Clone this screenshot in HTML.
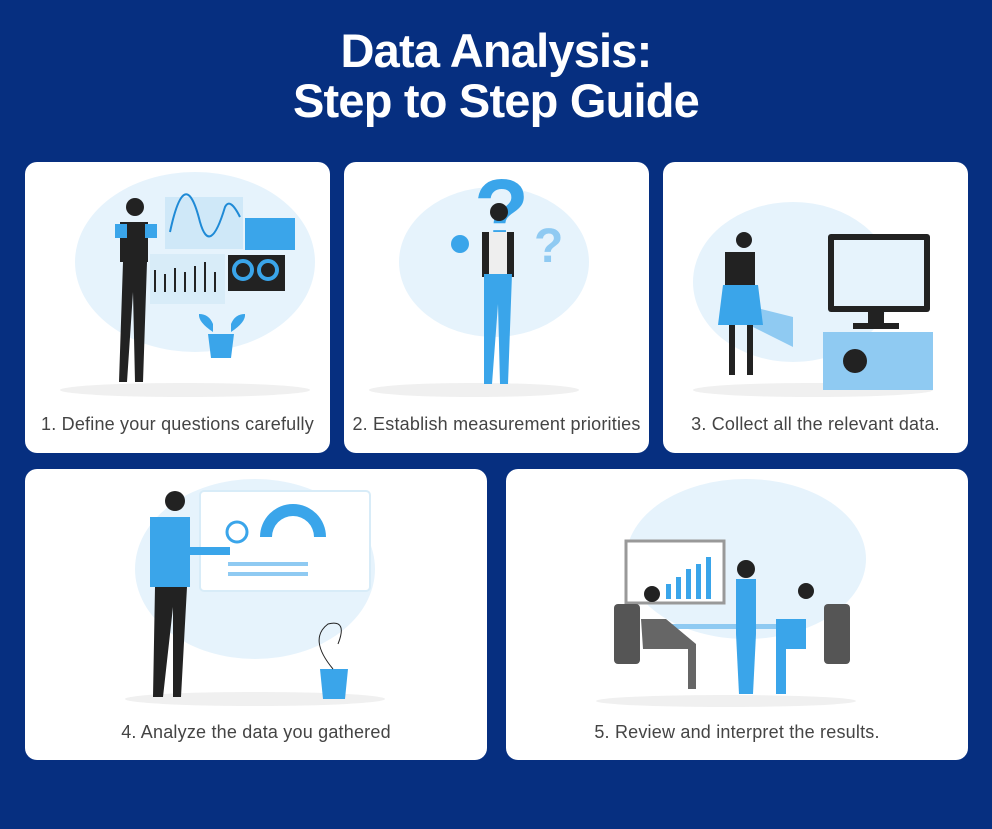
<!DOCTYPE html>
<html><head><meta charset="utf-8"><style>
body{margin:0;width:992px;height:829px;background:#062f80;font-family:"Liberation Sans",sans-serif;position:relative;overflow:hidden}
h1{position:absolute;top:26px;left:0;width:992px;margin:0;text-align:center;color:#fff;font-size:47px;line-height:50px;font-weight:bold;letter-spacing:-0.8px}
.c{position:absolute;background:#fff;border-radius:12px;overflow:hidden}
.c svg{position:absolute;left:0;top:0}
.l{position:absolute;left:0;right:0;text-align:center;color:#444;font-size:18px;letter-spacing:0.2px;white-space:nowrap}
</style></head><body>
<h1>Data Analysis:<br>Step to Step Guide</h1>

<div class="c" style="left:25px;top:162px;width:305px;height:291px">
<svg width="305" height="291">
<ellipse cx="170" cy="100" rx="120" ry="90" fill="#e6f3fc"/>
<ellipse cx="160" cy="228" rx="125" ry="7" fill="#f0f0f0"/>
<rect x="140" y="35" width="78" height="52" fill="#cfe8f8"/>
<path d="M145 70 Q160 0 175 60 Q185 95 200 45 Q205 35 215 55" stroke="#1f8ad6" stroke-width="2" fill="none"/>
<rect x="220" y="56" width="50" height="32" fill="#3aa5ea"/>
<rect x="125" y="92" width="75" height="50" fill="#d8ecf8"/>
<g stroke="#222" stroke-width="2"><line x1="130" y1="130" x2="130" y2="108"/><line x1="140" y1="130" x2="140" y2="112"/><line x1="150" y1="130" x2="150" y2="106"/><line x1="160" y1="130" x2="160" y2="110"/><line x1="170" y1="130" x2="170" y2="104"/><line x1="180" y1="130" x2="180" y2="100"/><line x1="190" y1="130" x2="190" y2="110"/></g>
<rect x="203" y="93" width="57" height="36" fill="#222"/>
<circle cx="218" cy="108" r="9" fill="none" stroke="#3aa5ea" stroke-width="4"/><circle cx="243" cy="108" r="9" fill="none" stroke="#3aa5ea" stroke-width="4"/>
<circle cx="110" cy="45" r="9" fill="#222"/>
<path d="M95 60 h28 v40 h-28z" fill="#222"/><path d="M90 62 h12 v14 h-12z M120 62 h12 v14 h-12z" fill="#3aa5ea"/>
<path d="M98 100 h24 l-4 120 h-8 l-2-90 l-6 90 h-8z" fill="#222"/>
<path d="M183 172 h26 l-3 24 h-20z" fill="#3aa5ea"/>
<path d="M188 170 q-15-10-14-18 q10 0 14 10z M206 170 q15-10 14-18 q-10 0-14 10z" fill="#3aa5ea"/>
</svg>
<div class="l" style="top:252px">1. Define your questions carefully</div></div>

<div class="c" style="left:344px;top:162px;width:305px;height:291px">
<svg width="305" height="291">
<ellipse cx="150" cy="100" rx="95" ry="75" fill="#e6f3fc"/>
<ellipse cx="130" cy="228" rx="105" ry="7" fill="#f0f0f0"/>
<text x="130" y="80" font-size="90" font-weight="bold" fill="#3aa5ea" font-family="Liberation Sans">?</text>
<text x="190" y="100" font-size="48" font-weight="bold" fill="#8fcaf2" font-family="Liberation Sans">?</text>
<circle cx="155" cy="50" r="9" fill="#222"/>
<path d="M138 70 h32 v45 h-32z" fill="#222"/><path d="M145 70 h18 v45 h-18z" fill="#eee"/>
<path d="M140 112 h28 l-4 110 h-8 l-2-80 l-6 80 h-8z" fill="#3aa5ea"/>
<circle cx="116" cy="82" r="9" fill="#3aa5ea"/>
</svg>
<div class="l" style="top:252px">2. Establish measurement priorities</div></div>

<div class="c" style="left:663px;top:162px;width:305px;height:291px">
<svg width="305" height="291">
<ellipse cx="130" cy="120" rx="100" ry="80" fill="#e6f3fc"/>
<ellipse cx="150" cy="228" rx="120" ry="7" fill="#f0f0f0"/>
<rect x="165" y="72" width="102" height="78" rx="3" fill="#222"/>
<rect x="171" y="78" width="90" height="66" fill="#e6f3fc"/>
<rect x="205" y="150" width="16" height="12" fill="#222"/><rect x="190" y="161" width="46" height="6" fill="#222"/>
<rect x="160" y="170" width="110" height="58" fill="#8fcaf2"/>
<circle cx="192" cy="199" r="12" fill="#222"/>
<path d="M90 145 l40 10 l0 30 l-40 -20z" fill="#8fcaf2"/>
<circle cx="81" cy="78" r="8" fill="#222"/>
<path d="M62 90 h30 v35 h-30z" fill="#222"/>
<path d="M60 123 h35 l5 40 h-45z" fill="#3aa5ea"/>
<path d="M66 163 h6 v50 h-6z M84 163 h6 v50 h-6z" fill="#222"/>
</svg>
<div class="l" style="top:252px">3. Collect all the relevant data.</div></div>

<div class="c" style="left:25px;top:469px;width:462px;height:291px">
<svg width="462" height="291">
<ellipse cx="230" cy="100" rx="120" ry="90" fill="#e6f3fc"/>
<ellipse cx="230" cy="230" rx="130" ry="7" fill="#f0f0f0"/>
<rect x="175" y="22" width="170" height="100" rx="4" fill="#fff" stroke="#d8ecf8" stroke-width="2"/>
<path d="M235 68 a33 33 0 0 1 66 0 h-12 a21 21 0 0 0 -42 0z" fill="#3aa5ea"/>
<rect x="203" y="93" width="80" height="4" fill="#8fcaf2"/><rect x="203" y="103" width="80" height="4" fill="#8fcaf2"/>
<circle cx="212" cy="63" r="10" fill="#fff" stroke="#3aa5ea" stroke-width="3"/>
<circle cx="150" cy="32" r="10" fill="#222"/>
<path d="M125 48 h40 v70 h-40z" fill="#3aa5ea"/>
<path d="M145 78 h60 v8 h-60z" fill="#3aa5ea"/>
<path d="M130 118 h32 l-6 110 h-8 l0-90 l-10 90 h-10z" fill="#222"/>
<path d="M295 200 h28 l-3 30 h-22z" fill="#3aa5ea"/>
<path d="M308 200 q-25-30 -5-45 q20-5 10 20" stroke="#222" fill="none"/>
</svg>
<div class="l" style="top:253px">4. Analyze the data you gathered</div></div>

<div class="c" style="left:506px;top:469px;width:462px;height:291px">
<svg width="462" height="291">
<ellipse cx="240" cy="90" rx="120" ry="80" fill="#e6f3fc"/>
<ellipse cx="220" cy="232" rx="130" ry="6" fill="#f0f0f0"/>
<rect x="120" y="72" width="98" height="62" fill="#fff" stroke="#999" stroke-width="3"/>
<g fill="#3aa5ea"><rect x="160" y="115" width="5" height="15"/><rect x="170" y="108" width="5" height="22"/><rect x="180" y="100" width="5" height="30"/><rect x="190" y="95" width="5" height="35"/><rect x="200" y="88" width="5" height="42"/></g>
<rect x="150" y="155" width="150" height="5" fill="#8fcaf2"/>
<rect x="108" y="135" width="26" height="60" rx="4" fill="#555"/>
<rect x="318" y="135" width="26" height="60" rx="4" fill="#555"/>
<path d="M230 110 h20 v55 l-3 60 h-14 l-3-60z" fill="#3aa5ea"/>
<circle cx="240" cy="100" r="9" fill="#222"/>
<path d="M270 150 h30 v30 h-20 v45 h-10z" fill="#3aa5ea"/>
<circle cx="300" cy="122" r="8" fill="#222"/>
<path d="M135 150 h25 l30 25 v45 h-8 v-40 h-45z" fill="#666"/>
<circle cx="146" cy="125" r="8" fill="#222"/>
</svg>
<div class="l" style="top:253px">5. Review and interpret the results.</div></div>
</body></html>
